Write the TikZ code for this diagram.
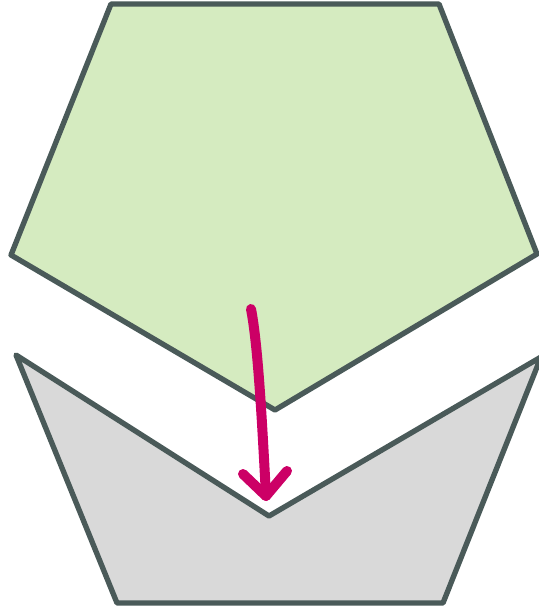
\documentclass[tikz,border=0pt]{standalone}
\begin{document}
\begin{tikzpicture}[x=0.75pt,y=-0.75pt,
  shapeline/.style={draw=edgec,line width=4pt,line join=round},
  arrowline/.style={draw=arrowc,line width=7.5pt,line cap=round,line join=round}]
\definecolor{edgec}{HTML}{4A5A59}
\definecolor{greenf}{HTML}{D5EBC0}
\definecolor{grayf}{HTML}{D9D9D9}
\definecolor{arrowc}{HTML}{CC0066}
\useasboundingbox (0,0) rectangle (539,608);
\begin{scope}
\clip (0,0) rectangle (539,608);
\draw[shapeline,fill=greenf] (111,4) -- (439,4) -- (537,254) -- (275,410) -- (11,255) -- cycle;
\draw[shapeline,fill=grayf] (16,355) -- (269,516) -- (541,357) -- (443,603) -- (117,603) -- cycle;
\end{scope}
\coordinate (s) at (251,309);
\coordinate (t) at (266,496);
\coordinate (hl) at (243,474);
\coordinate (hr) at (287,471);
\draw[arrowline] (s) .. controls (258,345) and (262,420) .. (t);
\draw[arrowline] (hl) -- (t) -- (hr);
\end{tikzpicture}
\end{document}
